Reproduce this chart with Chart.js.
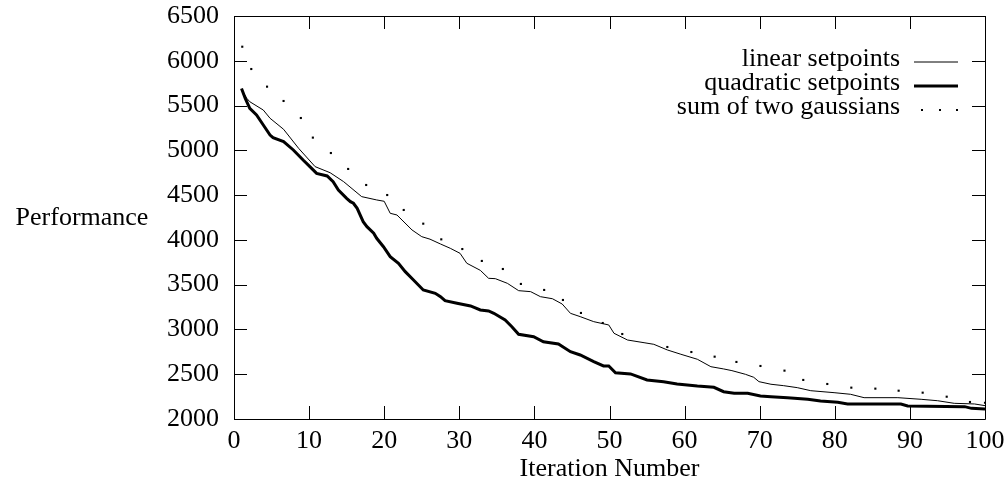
<!DOCTYPE html>
<html>
<head>
<meta charset="utf-8">
<script src="https://cdn.jsdelivr.net/npm/chart.js@4"></script>
<style>
  html, body { margin: 0; padding: 0; background: #fff; }
  canvas { display: block; }
</style>
</head>
<body>
<canvas id="chart" width="1008" height="494"></canvas>
<script>
// values
const xTicks = [0, 10, 20, 30, 40, 50, 60, 70, 80, 90, 100];
const yTicks = [2000, 2500, 3000, 3500, 4000, 4500, 5000, 5500, 6000, 6500];
const seriesNames = ['linear setpoints', 'quadratic setpoints', 'sum of two gaussians'];

const linearX = [1.0, 1.7, 2.1, 3.9, 4.8, 6.6, 8.6, 10.8, 12.8, 14.6, 17.0, 19.0, 20.0, 20.8, 21.7, 23.7, 25.0, 26.1, 27.5, 28.8, 30.1, 31.0, 32.8, 33.9, 34.8, 36.4, 37.9, 39.5, 40.8, 42.4, 43.7, 44.8, 46.1, 47.9, 49.9, 50.6, 52.4, 54.6, 55.9, 57.7, 59.5, 61.7, 63.5, 65.2, 66.3, 68.1, 69.2, 69.9, 71.5, 73.2, 75.0, 76.8, 79.9, 82.1, 83.9, 88.4, 91.5, 93.7, 95.9, 98.6, 100];
const linearY = [5680, 5581, 5543, 5450, 5358, 5235, 5023, 4818, 4750, 4650, 4483, 4446, 4431, 4297, 4278, 4111, 4036, 4008, 3954, 3906, 3850, 3739, 3660, 3571, 3567, 3515, 3433, 3422, 3366, 3343, 3284, 3180, 3143, 3087, 3050, 2957, 2882, 2852, 2834, 2771, 2723, 2667, 2584, 2559, 2540, 2499, 2466, 2417, 2388, 2372, 2350, 2316, 2294, 2276, 2238, 2238, 2220, 2204, 2175, 2168, 2149];

const quadX = [1.0, 1.5, 2.1, 3.0, 3.9, 4.8, 5.2, 6.6, 7.9, 9.2, 10.1, 11.0, 12.4, 13.2, 13.9, 15.0, 15.5, 15.9, 16.4, 17.2, 17.7, 18.6, 19.0, 19.9, 20.8, 21.9, 22.8, 23.9, 25.2, 26.8, 27.5, 28.1, 29.7, 31.5, 32.8, 33.9, 34.6, 36.1, 37.0, 37.9, 39.9, 41.2, 43.2, 44.8, 46.1, 47.9, 49.2, 49.9, 50.8, 52.8, 55.0, 57.2, 59.0, 61.7, 63.9, 65.2, 66.6, 68.4, 70.1, 71.5, 73.7, 76.4, 78.1, 80.4, 81.7, 88.8, 89.7, 97.3, 98.2, 100];
const quadY = [5690, 5581, 5469, 5395, 5283, 5171, 5142, 5097, 5004, 4892, 4818, 4743, 4714, 4650, 4557, 4464, 4427, 4409, 4353, 4203, 4148, 4074, 4018, 3924, 3813, 3739, 3645, 3552, 3441, 3404, 3366, 3321, 3292, 3262, 3217, 3206, 3180, 3106, 3031, 2946, 2919, 2863, 2838, 2752, 2715, 2640, 2592, 2592, 2517, 2503, 2436, 2417, 2391, 2368, 2354, 2305, 2287, 2287, 2257, 2249, 2238, 2220, 2201, 2186, 2168, 2168, 2145, 2138, 2119, 2112];

const gaussX = [1.1, 2.3, 4.4, 6.6, 8.9, 10.5, 12.9, 15.2, 17.6, 20.4, 22.6, 25.2, 27.6, 30.4, 33.0, 35.8, 38.2, 41.3, 43.8, 46.2, 49.1, 51.7, 57.7, 60.9, 64.0, 66.9, 70.1, 73.3, 75.8, 79.0, 82.2, 85.4, 88.5, 91.7, 94.9, 98.0, 100];
const gaussY = [6157, 5908, 5711, 5551, 5361, 5142, 4970, 4792, 4613, 4501, 4334, 4181, 4006, 3898, 3765, 3675, 3508, 3441, 3329, 3184, 3072, 2949, 2804, 2748, 2696, 2637, 2592, 2540, 2436, 2391, 2350, 2339, 2316, 2294, 2249, 2190, 2182];

const FONT = 'Liberation Serif';

function pairs(xs, ys) {
    return xs.map((x, i) => ({ x: x, y: ys[i] }));
}

// box, inward ticks, y title and the legend, drawn the old gnuplot way
const framePlugin = {
    id: 'frame',
    afterDraw(chart) {
        const ctx = chart.ctx;
        const a = chart.chartArea;
        const xs = chart.scales.x;
        const ys = chart.scales.y;
        const tick = 13;

        ctx.save();
        ctx.strokeStyle = '#000';
        ctx.lineWidth = 1;
        ctx.beginPath();
        ctx.rect(Math.round(a.left) + 0.5, Math.round(a.top) + 0.5, Math.round(a.right - a.left), Math.round(a.bottom - a.top));
        xTicks.forEach(v => {
            const px = Math.round(xs.getPixelForValue(v)) + 0.5;
            ctx.moveTo(px, a.bottom);
            ctx.lineTo(px, a.bottom - tick);
            ctx.moveTo(px, a.top);
            ctx.lineTo(px, a.top + tick);
        });
        yTicks.forEach(v => {
            const py = Math.round(ys.getPixelForValue(v)) + 0.5;
            ctx.moveTo(a.left, py);
            ctx.lineTo(a.left + tick, py);
            ctx.moveTo(a.right, py);
            ctx.lineTo(a.right - tick, py);
        });
        ctx.stroke();

        ctx.fillStyle = '#000';
        ctx.font = '26px "' + FONT + '"';
        ctx.textAlign = 'center';
        ctx.textBaseline = 'middle';
        ctx.fillText('Performance', 82, 218);

        // legend: text right aligned, sample to its right
        const textRight = 900;
        const sampleL = 914, sampleR = 958;
        chart.data.datasets.forEach((ds, i) => {
            const y = 62 + i * 24;
            ctx.textAlign = 'right';
            ctx.textBaseline = 'alphabetic';
            ctx.fillText(ds.label, textRight, y + 4);
            if (ds.showLine === false) {
                [922, 940, 957].forEach(dx => ctx.fillRect(dx - 1, y - 1, 2, 2));
            } else {
                ctx.lineWidth = ds.borderWidth;
                ctx.beginPath();
                ctx.moveTo(sampleL, y);
                ctx.lineTo(sampleR, y);
                ctx.stroke();
            }
        });
        ctx.restore();
    }
};

new Chart(document.getElementById('chart'), {
    type: 'line',
    data: {
        datasets: [
            {
                label: seriesNames[0],
                data: pairs(linearX, linearY),
                borderColor: '#000',
                borderWidth: 1,
                pointRadius: 0,
                tension: 0
            },
            {
                label: seriesNames[1],
                data: pairs(quadX, quadY),
                borderColor: '#000',
                borderWidth: 3,
                pointRadius: 0,
                tension: 0
            },
            {
                label: seriesNames[2],
                data: pairs(gaussX, gaussY),
                showLine: false,
                pointStyle: 'rect',
                pointRadius: 1.5,
                pointBorderWidth: 0,
                pointBackgroundColor: '#000',
                borderColor: '#000'
            }
        ]
    },
    options: {
        responsive: false,
        animation: false,
        devicePixelRatio: 1,
        layout: { padding: { top: 16, right: 23, left: 0, bottom: 0 } },
        plugins: {
            legend: { display: false },
            tooltip: { enabled: false }
        },
        scales: {
            x: {
                type: 'linear',
                min: 0,
                max: 100,
                afterBuildTicks: s => { s.ticks = xTicks.map(v => ({ value: v })); },
                afterFit: s => { s.height = 75; s.paddingLeft = 0; s.paddingRight = 0; },
                grid: { display: false, drawTicks: false },
                border: { display: false },
                ticks: { color: '#000', padding: 7, maxRotation: 0, font: { family: FONT, size: 26 }, callback: v => String(v) },
                title: {
                    display: true,
                    text: 'Iteration Number',
                    color: '#000',
                    padding: { top: 0, bottom: 9 },
                    font: { family: FONT, size: 26 }
                }
            },
            y: {
                min: 2000,
                max: 6500,
                afterBuildTicks: s => { s.ticks = yTicks.map(v => ({ value: v })); },
                afterFit: s => { s.width = 234; s.paddingTop = 0; s.paddingBottom = 0; },
                grid: { display: false, drawTicks: false },
                border: { display: false },
                ticks: { color: '#000', padding: 15, font: { family: FONT, size: 26 }, callback: v => String(v) }
            }
        }
    },
    plugins: [framePlugin]
});
</script>
</body>
</html>
